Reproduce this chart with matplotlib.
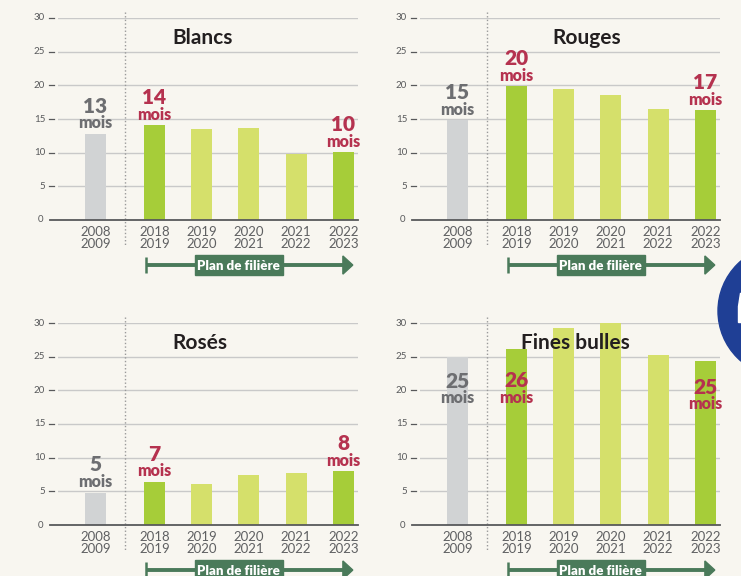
import matplotlib.pyplot as plt
import matplotlib.transforms as mtransforms
from matplotlib.patches import Rectangle, Polygon, Circle

plt.rcParams['font.family'] = ['Lato', 'DejaVu Sans']

# data
periods = ["2008\n2009", "2018\n2019", "2019\n2020", "2020\n2021", "2021\n2022", "2022\n2023"]
blancs = [12.8, 14.1, 13.5, 13.7, 9.8, 10.1]
rouges = [14.8, 19.9, 19.4, 18.5, 16.5, 16.3]
roses = [4.8, 6.4, 6.1, 7.4, 7.7, 8.0]
fines_bulles = [24.9, 26.2, 29.3, 30.0, 25.3, 24.4]

label_idx = [0, 1, 5]
blancs_labels = ["13", "14", "10"]
rouges_labels = ["15", "20", "17"]
roses_labels = ["5", "7", "8"]
fines_bulles_labels = ["25", "26", "25"]

BG = '#f8f6f0'
GREY_BAR = '#d1d3d4'
DARK_GREEN = '#a6cd39'
LIGHT_GREEN = '#d5e06b'
RED = '#b5324f'
GREY_TXT = '#6d6e71'
ARROW = '#4a7a5a'

bar_colors = [GREY_BAR, DARK_GREEN, LIGHT_GREEN, LIGHT_GREEN, LIGHT_GREEN, DARK_GREEN]
label_colors = [GREY_TXT, RED, RED]
xpos = [0, 1.25, 2.25, 3.25, 4.25, 5.25]

fig = plt.figure(figsize=(7.41, 5.76), dpi=100, facecolor=BG)

W, H = 741, 576


def make_ax(left_px, bottom_px):
    return fig.add_axes([left_px / W, (H - bottom_px) / H, 300 / W, 202 / H])


def draw_panel(ax, values, labels, title, title_x, inside=None):
    ax.set_facecolor(BG)
    for s in ax.spines.values():
        s.set_visible(False)
    ax.set_xlim(-0.79, 5.56)
    ax.set_ylim(0, 30)
    ax.set_yticks([])
    ax.tick_params(axis='x', length=0, pad=4, labelsize=9.5, labelcolor='#5f6062')
    ax.set_xticks(xpos)
    ax.set_xticklabels(periods, linespacing=1.05)

    ytr = ax.get_yaxis_transform()
    for v in range(5, 31, 5):
        ax.axhline(v, color='#c9c9c9', lw=1, zorder=0)
        ax.text(-0.043, v, str(v), transform=ytr, ha='right', va='center',
                fontsize=7, color='#58595b')
        ax.plot([-0.03, -0.013], [v, v], transform=ytr, color='#58595b',
                lw=0.9, clip_on=False)
    ax.text(-0.05, 0, "0", transform=ytr, ha='right', va='center',
            fontsize=7, color='#58595b')
    ax.plot([-0.027, 1.0], [0, 0], transform=ytr, color='#58595b', lw=1.3,
            clip_on=False, zorder=3)

    ax.bar(xpos, values, width=0.44, color=bar_colors, zorder=2)

    ax.plot([0.62, 0.62], [30.9, -3.9], color='#9a9a9a', lw=1, ls=(0, (1, 1.6)),
            clip_on=False, zorder=1)

    ax.text(title_x, 27.1, title, ha='center', va='center', fontsize=15,
            fontweight='bold', color='#231f20', zorder=5)

    for k, (i, lab) in enumerate(zip(label_idx, labels)):
        c = label_colors[k]
        if inside is None:
            ax.annotate("mois", (xpos[i], values[i]), xytext=(0, 7.5),
                        textcoords='offset points', ha='center', va='center',
                        fontsize=11.5, fontweight='heavy', color=c, zorder=5)
            ax.annotate(lab, (xpos[i], values[i]), xytext=(0, 20),
                        textcoords='offset points', ha='center', va='center',
                        fontsize=15, fontweight='heavy', color=c, zorder=5)
        else:
            ax.text(xpos[i], inside[k], "mois", ha='center', va='center',
                    fontsize=11.5, fontweight='heavy', color=c, zorder=5)
            ax.annotate(lab, (xpos[i], inside[k]), xytext=(0, 12.5),
                        textcoords='offset points', ha='center', va='center',
                        fontsize=15, fontweight='heavy', color=c, zorder=5)

    # "Plan de filiere" arrow under the axis
    tr = mtransforms.blended_transform_factory(ax.transData, ax.transAxes)
    ya = -0.223
    ax.plot([1.07, 5.26], [ya, ya], transform=tr, color=ARROW, lw=2.8,
            clip_on=False, solid_capstyle='butt')
    ax.plot([1.07, 1.07], [ya - 0.04, ya + 0.04], transform=tr, color=ARROW,
            lw=1.8, clip_on=False, solid_capstyle='butt')
    ax.add_patch(Polygon([[5.24, ya + 0.045], [5.45, ya], [5.24, ya - 0.045]],
                         closed=True, transform=tr, color=ARROW, clip_on=False))
    ax.add_patch(Rectangle((2.1, ya - 0.05), 1.87, 0.1, transform=tr,
                           color=ARROW, clip_on=False))
    ax.text(3.035, ya - 0.005, "Plan de filière", transform=tr, ha='center',
            va='center', fontsize=9.5, fontweight='heavy', color='white')


ax1 = make_ax(58, 220)
draw_panel(ax1, blancs, blancs_labels, "Blancs", 2.28)
ax2 = make_ax(420, 220)
draw_panel(ax2, rouges, rouges_labels, "Rouges", 2.74)
ax3 = make_ax(58, 525)
draw_panel(ax3, roses, roses_labels, "Rosés", 2.21)
ax4 = make_ax(420, 525)
draw_panel(ax4, fines_bulles, fines_bulles_labels, "Fines bulles", 2.49,
           inside=[18.8, 18.9, 17.9])

# blue badge cut by the right edge, with the visible sliver of its white glyph
fig.patches.append(Circle((7.84, 2.65), 0.66, transform=fig.dpi_scale_trans,
                          color='#1f3f95', zorder=10))
fig.patches.append(Polygon([[7.40, 2.83], [7.41, 2.83], [7.41, 2.54], [7.38, 2.54],
                            [7.38, 2.70]], closed=True,
                           transform=fig.dpi_scale_trans, color='white', zorder=11))

fig.savefig("out.png", dpi=100, facecolor=BG)
